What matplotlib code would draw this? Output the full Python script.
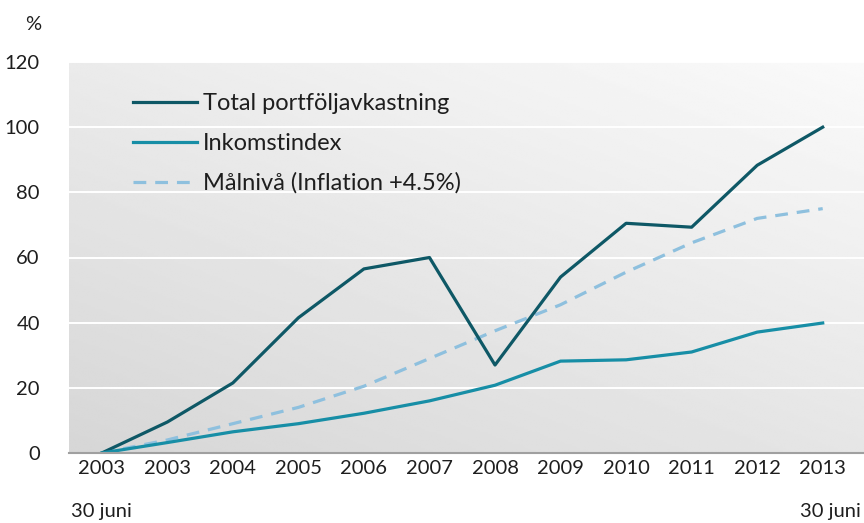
import matplotlib
matplotlib.use("Agg")
import matplotlib.pyplot as plt
import numpy as np

plt.rcParams['font.family'] = ['Lato', 'DejaVu Sans']

categories = ["2003", "2003", "2004", "2005", "2006", "2007", "2008", "2009", "2010", "2011", "2012", "2013"]
total = [0, 9.5, 21.5, 41.5, 56.5, 60, 27, 54, 70.5, 69.3, 88.3, 100]
inkomst = [0, 3.2, 6.5, 9.0, 12.2, 16, 20.8, 28.2, 28.6, 31, 37.1, 39.9]
malniva = [0, 4, 9, 14, 20.5, 29, 37.5, 45.5, 55.5, 64.5, 72, 75]
series_names = ["Total portföljavkastning", "Inkomstindex", "Målnivå (Inflation +4.5%)"]
yticks = [0, 20, 40, 60, 80, 100, 120]

TXT = '#1e1e1e'
fig = plt.figure(figsize=(8.64, 5.23), dpi=100)
ax = fig.add_axes([69/864, 1-453/523, 1-69/864, (453-62)/523])

x = np.arange(len(categories))

# gradient background
gx, gy = np.meshgrid(np.linspace(0, 1, 200), np.linspace(0, 1, 200))
grad = 0.84 + 0.06 * gx + 0.08 * gy
grad = np.clip(grad, 0, 1)
ax.imshow(grad, cmap='gray', vmin=0, vmax=1, origin='lower', extent=[0, 1, 0, 1],
          transform=ax.transAxes, aspect='auto', zorder=0, interpolation='bilinear')

for yt in yticks[1:]:
    ax.axhline(yt, color='white', lw=1.4, zorder=1)

ax.plot(x, total, color='#0e5866', lw=2.3, label=series_names[0], zorder=3)
ax.plot(x, inkomst, color='#178ea6', lw=2.3, label=series_names[1], zorder=3)
ax.plot(x, malniva, color='#8ec0de', lw=2.3, dashes=(4.0, 2.8), label=series_names[2], zorder=2)

ax.set_xlim(-0.5, 11.63)
ax.set_ylim(0, 120)
ax.set_yticks(yticks)
ax.set_yticklabels([str(v) for v in yticks])
ax.set_xticks(x)
ax.set_xticklabels(categories)
ax.tick_params(axis='both', length=0, labelsize=14.5, colors=TXT)
ax.tick_params(axis='x', pad=5)
ax.tick_params(axis='y', pad=21)
for s in ['top', 'right', 'left']:
    ax.spines[s].set_visible(False)
ax.spines['bottom'].set_color('#a0a0a0')
ax.spines['bottom'].set_linewidth(1.5)
ax.spines['bottom'].set_zorder(4)

fig.text(71/864, 1-511/523, "30 juni", ha='left', va='center', fontsize=14.5, color=TXT)
fig.text(861/864, 1-511/523, "30 juni", ha='right', va='center', fontsize=14.5, color=TXT)
fig.text(33/864, 1-25/523, "%", ha='center', va='center', fontsize=14.5, color=TXT)

leg = ax.legend(loc='upper left', bbox_to_anchor=(55/795, 1-(84-62)/391), frameon=False,
                fontsize=17, handlelength=2.7, handletextpad=0.25, labelspacing=0.78,
                borderaxespad=0)
for t in leg.get_texts():
    t.set_color(TXT)

fig.savefig("out.png", dpi=100)
